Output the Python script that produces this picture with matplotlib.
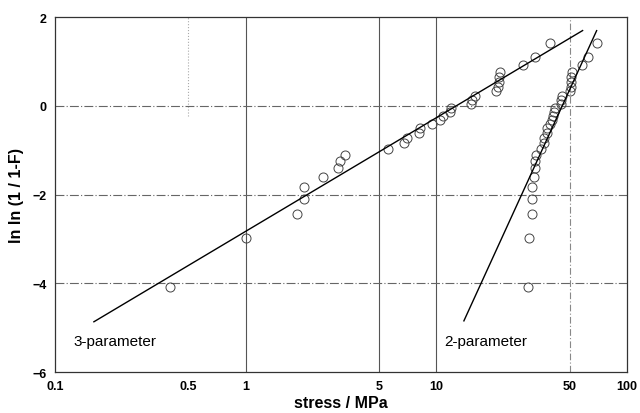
import numpy as np
import matplotlib
matplotlib.use('Agg')
import matplotlib.pyplot as plt

plt.rcParams['font.family'] = ['Liberation Sans', 'DejaVu Sans']

# measured fracture stresses (MPa), ranked
stress = [30.20, 30.80, 31.67, 31.82, 31.83, 32.35, 32.84, 32.92, 33.12, 35.35,
          36.56, 36.85, 37.90, 38.00, 39.24, 40.25, 40.70, 41.60, 41.80, 45.00,
          45.10, 45.70, 50.30, 50.80, 51.00, 51.10, 51.40, 58.20, 62.70, 69.20]
# ln ln (1 / 1-F) for each rank
lnln = [-4.09, -2.97, -2.44, -2.09, -1.82, -1.60, -1.41, -1.25, -1.10, -0.97,
        -0.84, -0.73, -0.62, -0.51, -0.42, -0.32, -0.23, -0.13, -0.04, 0.05,
        0.14, 0.23, 0.33, 0.42, 0.53, 0.64, 0.76, 0.91, 1.10, 1.41]
# threshold stress for the 3-parameter fit
sigma_u = 29.8

# fitted lines: y = m * ln(x) + c, drawn over [x_start, x_end]
fit3_m, fit3_c, fit3_range = 1.112, -2.83, (0.16, 58.5)
fit2_m, fit2_c, fit2_range = 4.08, -15.60, (13.95, 69.3)

xticks = [0.1, 0.5, 1, 5, 10, 50, 100]
xticklabels = ['0.1', '0.5', '1', '5', '10', '50', '100']
yticks = [-6, -4, -2, 0, 2]

fig = plt.figure(figsize=(6.4, 4.14), dpi=100)
ax = fig.add_axes([0.0859, 0.099, 0.8938, 0.8575])

ax.set_xscale('log')
ax.set_xlim(0.1, 100)
ax.set_ylim(-6, 2)

# reference grid
for xv in [1, 5, 10]:
    ax.axvline(xv, color='#555555', lw=0.8, zorder=1)
ax.axvline(50, color='#888888', lw=0.8, ls=(0, (6, 2, 1, 2)), zorder=1)
ax.axvline(0.5, ymin=0.72, color='#aaaaaa', lw=0.8, ls=':', zorder=1)
for yv in [0, -2, -4]:
    ax.axhline(yv, color='#666666', lw=0.8, ls=(0, (8, 2, 1, 2)), zorder=1)

stress = np.array(stress)
lnln = np.array(lnln)

# data points
ax.plot(stress - sigma_u, lnln, 'o', mfc='none', mec='#444444', ms=6.5,
        mew=0.7, zorder=3)
ax.plot(stress, lnln, 'o', mfc='none', mec='#444444', ms=6.5,
        mew=0.7, zorder=3)

# fitted lines
for m, c, (x0, x1) in [(fit3_m, fit3_c, fit3_range), (fit2_m, fit2_c, fit2_range)]:
    xs = np.array([x0, x1])
    ax.plot(xs, m * np.log(xs) + c, color='black', lw=1.0, zorder=4)

ax.text(0.125, -5.3, '3-parameter', fontsize=11, ha='left', va='center')
ax.text(11.0, -5.3, '2-parameter', fontsize=11, ha='left', va='center')

ax.set_xticks(xticks)
ax.set_xticklabels(xticklabels)
ax.xaxis.set_minor_locator(matplotlib.ticker.NullLocator())
ax.set_yticks(yticks)
ax.tick_params(length=0, labelsize=9, pad=6)
for lab in ax.get_xticklabels() + ax.get_yticklabels():
    lab.set_fontweight('bold')

for sp in ax.spines.values():
    sp.set_color('#333333')
    sp.set_linewidth(0.9)

ax.set_xlabel('stress / MPa', fontsize=11.5, fontweight='bold', labelpad=2)
ax.set_ylabel('ln ln (1 / 1-F)', fontsize=11.5, fontweight='bold', labelpad=6)

fig.savefig('out.png', dpi=100)
